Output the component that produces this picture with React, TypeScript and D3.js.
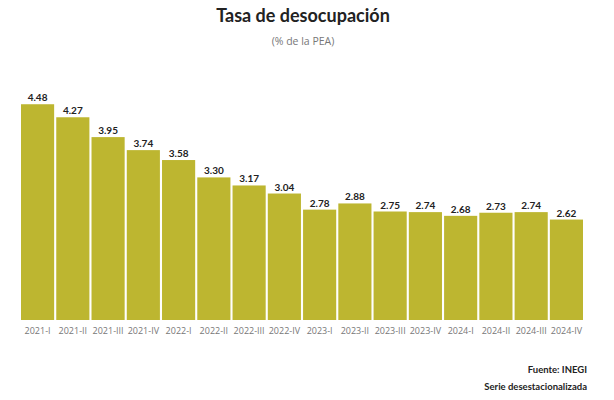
import React from "react";
import * as d3 from "d3";

const categories = ["2021-I","2021-II","2021-III","2021-IV","2022-I","2022-II","2022-III","2022-IV","2023-I","2023-II","2023-III","2023-IV","2024-I","2024-II","2024-III","2024-IV"];
const values = [4.48,4.27,3.95,3.74,3.58,3.30,3.17,3.04,2.78,2.88,2.75,2.74,2.68,2.73,2.74,2.62];

const W = 614, H = 400;
const FONT = "Lato, 'Open Sans', sans-serif";
const FONT2 = "'Open Sans', sans-serif";

export default function App() {
  const x = d3.scaleBand<string>().domain(categories).range([21, 583]).paddingInner(0.06).paddingOuter(0);
  const y = d3.scaleLinear().domain([1, 5]).range([320, 72]);
  return (
    <svg width={W} height={H} style={{ position: "absolute", left: 0, top: 0, background: "#fff" }}>
      <text x={303} y={22} textAnchor="middle" fontFamily={FONT} fontWeight={700} fontSize={18} fill="#222">Tasa de desocupación</text>
      <text x={303} y={45} textAnchor="middle" fontFamily={FONT2} fontSize={10.5} fill="#777">(% de la PEA)</text>
      {categories.map((c, i) => (
        <g key={c}>
          <rect x={x(c)} y={y(values[i])} width={x.bandwidth()} height={y(1) - y(values[i])} fill="#bdb630" />
          <text x={(x(c) as number) + x.bandwidth() / 2} y={y(values[i]) - 3} textAnchor="middle" fontFamily={FONT} fontWeight={700} fontSize={10} fill="#222">{values[i].toFixed(2)}</text>
          <text x={(x(c) as number) + x.bandwidth() / 2} y={334} textAnchor="middle" fontFamily={FONT2} fontSize={9} fill="#777">{c}</text>
        </g>
      ))}
      <text x={587} y={373} textAnchor="end" fontFamily={FONT} fontWeight={700} fontSize={9.5} fill="#222">Fuente: INEGI</text>
      <text x={587} y={390} textAnchor="end" fontFamily={FONT} fontWeight={700} fontSize={9.5} fill="#222">Serie desestacionalizada</text>
    </svg>
  );
}
